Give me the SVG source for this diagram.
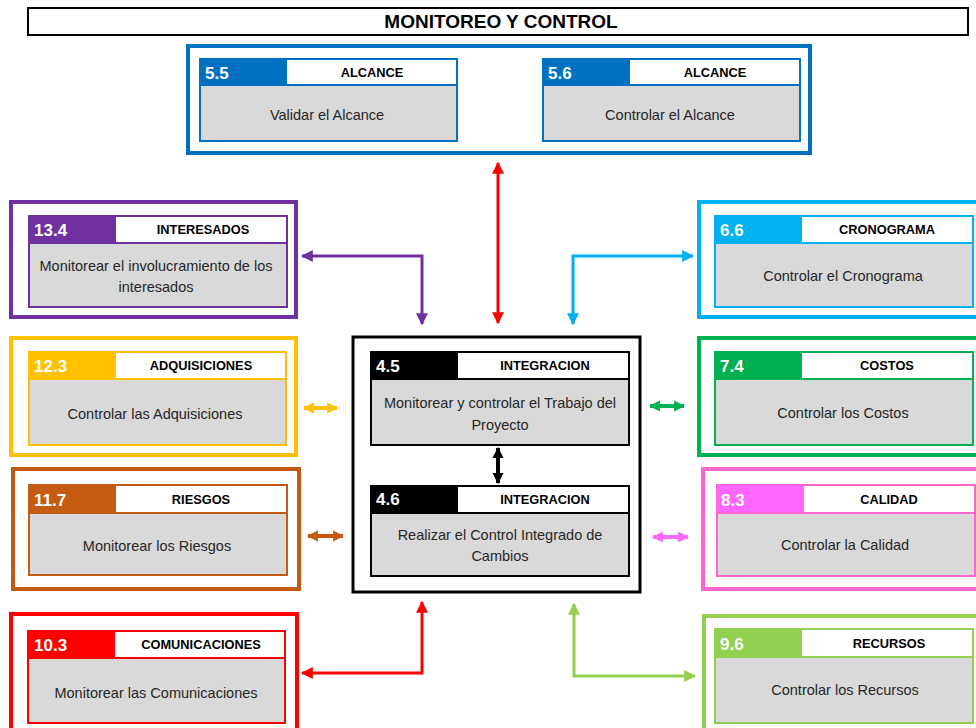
<svg xmlns="http://www.w3.org/2000/svg" width="976" height="728" viewBox="0 0 976 728">
  <style>
    text { font-family: "Liberation Sans", Arial, sans-serif; }
    .title { font-size: 19px; font-weight: bold; fill: #000; text-anchor: middle; }
    .num { font-size: 17px; font-weight: bold; fill: #fff; }
    .cat { font-size: 12.8px; font-weight: bold; fill: #000; text-anchor: middle; }
    .body { font-size: 14.5px; fill: #262626; text-anchor: middle; }
    .frame { fill: #fff; stroke-width: 4; }
    .card { fill: #D9D9D9; stroke-width: 2; }
    .head { fill: #fff; }
    .conn { fill: none; stroke-width: 3; }
    .short { fill: none; stroke-width: 4; }
  </style>
  <defs>
    <marker id="a-red" viewBox="0 0 10 10" refX="9" refY="5" markerWidth="12" markerHeight="12" markerUnits="userSpaceOnUse" orient="auto-start-reverse"><path d="M0,0 L10,5 L0,10 z" fill="#FF0000"/></marker>
    <marker id="a-purple" viewBox="0 0 10 10" refX="9" refY="5" markerWidth="12" markerHeight="12" markerUnits="userSpaceOnUse" orient="auto-start-reverse"><path d="M0,0 L10,5 L0,10 z" fill="#7030A0"/></marker>
    <marker id="a-cyan" viewBox="0 0 10 10" refX="9" refY="5" markerWidth="12" markerHeight="12" markerUnits="userSpaceOnUse" orient="auto-start-reverse"><path d="M0,0 L10,5 L0,10 z" fill="#00B0F0"/></marker>
    <marker id="a-lime" viewBox="0 0 10 10" refX="9" refY="5" markerWidth="12" markerHeight="12" markerUnits="userSpaceOnUse" orient="auto-start-reverse"><path d="M0,0 L10,5 L0,10 z" fill="#92D050"/></marker>
    <marker id="a-black" viewBox="0 0 10 10" refX="9" refY="5" markerWidth="11" markerHeight="13" markerUnits="userSpaceOnUse" orient="auto-start-reverse"><path d="M0,0 L10,5 L0,10 z" fill="#000"/></marker>
    <marker id="a-yellow" viewBox="0 0 10 10" refX="9" refY="5" markerWidth="11" markerHeight="13" markerUnits="userSpaceOnUse" orient="auto-start-reverse"><path d="M0,0 L10,5 L0,10 z" fill="#FFC000"/></marker>
    <marker id="a-green" viewBox="0 0 10 10" refX="9" refY="5" markerWidth="11" markerHeight="13" markerUnits="userSpaceOnUse" orient="auto-start-reverse"><path d="M0,0 L10,5 L0,10 z" fill="#00B050"/></marker>
    <marker id="a-brown" viewBox="0 0 10 10" refX="9" refY="5" markerWidth="11" markerHeight="13" markerUnits="userSpaceOnUse" orient="auto-start-reverse"><path d="M0,0 L10,5 L0,10 z" fill="#C55A11"/></marker>
    <marker id="a-pink" viewBox="0 0 10 10" refX="9" refY="5" markerWidth="11" markerHeight="13" markerUnits="userSpaceOnUse" orient="auto-start-reverse"><path d="M0,0 L10,5 L0,10 z" fill="#FF66FF"/></marker>
  </defs>

  <rect width="976" height="728" fill="#fff"/>

  <!-- Title bar -->
  <g id="title">
    <rect x="28" y="8" width="940" height="27" fill="#fff" stroke="#000" stroke-width="2"/>
    <text class="title" x="501" y="28">MONITOREO Y CONTROL</text>
  </g>

  <!-- Scope group (5.5 / 5.6) -->
  <g id="alcance">
    <rect class="frame" x="188" y="46" width="622" height="107" stroke="#0070C0"/>
    <g id="p5-5">
      <rect class="card" x="200" y="59" width="257" height="82" stroke="#0070C0"/>
      <rect x="200" y="59" width="87" height="26" fill="#0070C0"/>
      <rect class="head" x="287" y="60" width="169" height="25"/>
      <line x1="200" y1="85" x2="457" y2="85" stroke="#0070C0" stroke-width="2"/>
      <text class="num" x="205" y="79">5.5</text>
      <text class="cat" x="372" y="77">ALCANCE</text>
      <text class="body" x="327" y="120">Validar el Alcance</text>
    </g>
    <g id="p5-6">
      <rect class="card" x="543" y="59" width="257" height="82" stroke="#0070C0"/>
      <rect x="543" y="59" width="87" height="26" fill="#0070C0"/>
      <rect class="head" x="630" y="60" width="169" height="25"/>
      <line x1="543" y1="85" x2="800" y2="85" stroke="#0070C0" stroke-width="2"/>
      <text class="num" x="548" y="79">5.6</text>
      <text class="cat" x="715" y="77">ALCANCE</text>
      <text class="body" x="670" y="120">Controlar el Alcance</text>
    </g>
  </g>

  <!-- 13.4 Interesados -->
  <g id="p13-4">
    <rect class="frame" x="11" y="202" width="285" height="115" stroke="#7030A0"/>
    <rect class="card" x="29" y="216" width="258" height="91" stroke="#7030A0"/>
    <rect x="29" y="216" width="87" height="27" fill="#7030A0"/>
    <rect class="head" x="116" y="217" width="170" height="26"/>
    <line x1="29" y1="243" x2="287" y2="243" stroke="#7030A0" stroke-width="2"/>
    <text class="num" x="34" y="236">13.4</text>
    <text class="cat" x="203" y="234">INTERESADOS</text>
    <text class="body" x="156" y="271">Monitorear el involucramiento de los</text>
    <text class="body" x="156" y="292">interesados</text>
  </g>

  <!-- 6.6 Cronograma -->
  <g id="p6-6">
    <rect class="frame" x="699" y="202" width="295" height="115" stroke="#00B0F0"/>
    <rect class="card" x="715" y="216" width="258" height="91" stroke="#00B0F0"/>
    <rect x="715" y="216" width="87" height="27" fill="#00B0F0"/>
    <rect class="head" x="802" y="217" width="170" height="26"/>
    <line x1="715" y1="243" x2="973" y2="243" stroke="#00B0F0" stroke-width="2"/>
    <text class="num" x="720" y="236">6.6</text>
    <text class="cat" x="887" y="234">CRONOGRAMA</text>
    <text class="body" x="843" y="281">Controlar el Cronograma</text>
  </g>

  <!-- 12.3 Adquisiciones -->
  <g id="p12-3">
    <rect class="frame" x="11" y="338" width="285" height="117" stroke="#FFC000"/>
    <rect class="card" x="29" y="352" width="257" height="93" stroke="#FFC000"/>
    <rect x="29" y="352" width="87" height="27" fill="#FFC000"/>
    <rect class="head" x="116" y="353" width="169" height="26"/>
    <line x1="29" y1="379" x2="286" y2="379" stroke="#FFC000" stroke-width="2"/>
    <text class="num" x="34" y="372">12.3</text>
    <text class="cat" x="201" y="370">ADQUISICIONES</text>
    <text class="body" x="155" y="419">Controlar las Adquisiciones</text>
  </g>

  <!-- 11.7 Riesgos -->
  <g id="p11-7">
    <rect class="frame" x="13" y="469" width="286" height="120" stroke="#C55A11"/>
    <rect class="card" x="29" y="485" width="258" height="90" stroke="#C55A11"/>
    <rect x="29" y="485" width="87" height="28" fill="#C55A11"/>
    <rect class="head" x="116" y="486" width="170" height="27"/>
    <line x1="29" y1="513" x2="287" y2="513" stroke="#C55A11" stroke-width="2"/>
    <text class="num" x="34" y="506">11.7</text>
    <text class="cat" x="201" y="504">RIESGOS</text>
    <text class="body" x="157" y="551">Monitorear los Riesgos</text>
  </g>

  <!-- 10.3 Comunicaciones -->
  <g id="p10-3">
    <rect class="frame" x="11" y="614" width="286" height="120" stroke="#FF0000"/>
    <rect class="card" x="28" y="631" width="257" height="92" stroke="#FF0000"/>
    <rect x="28" y="630" width="87" height="28" fill="#FF0000"/>
    <rect class="head" x="115" y="632" width="169" height="26"/>
    <line x1="28" y1="658" x2="285" y2="658" stroke="#FF0000" stroke-width="2"/>
    <text class="num" x="34" y="651">10.3</text>
    <text class="cat" x="201" y="649">COMUNICACIONES</text>
    <text class="body" x="156" y="698">Monitorear las Comunicaciones</text>
  </g>

  <!-- Integration block (4.5 / 4.6) -->
  <g id="integracion">
    <rect x="353" y="337" width="287" height="255" fill="#fff" stroke="#000" stroke-width="3"/>
    <g id="p4-5">
      <rect class="card" x="371" y="352" width="258" height="93" stroke="#000"/>
      <rect x="371" y="352" width="87" height="27" fill="#000"/>
      <rect class="head" x="458" y="353" width="170" height="26"/>
      <line x1="371" y1="379" x2="629" y2="379" stroke="#000" stroke-width="2"/>
      <text class="num" x="376" y="372">4.5</text>
      <text class="cat" x="545" y="370">INTEGRACION</text>
      <text class="body" x="500" y="408">Monitorear y controlar el Trabajo del</text>
      <text class="body" x="500" y="430">Proyecto</text>
    </g>
    <g id="p4-6">
      <rect class="card" x="371" y="486" width="258" height="90" stroke="#000"/>
      <rect x="371" y="486" width="87" height="27" fill="#000"/>
      <rect class="head" x="458" y="487" width="170" height="26"/>
      <line x1="371" y1="513" x2="629" y2="513" stroke="#000" stroke-width="2"/>
      <text class="num" x="376" y="505">4.6</text>
      <text class="cat" x="545" y="504">INTEGRACION</text>
      <text class="body" x="500" y="540">Realizar el Control Integrado de</text>
      <text class="body" x="500" y="561">Cambios</text>
    </g>
  </g>

  <!-- 7.4 Costos -->
  <g id="p7-4">
    <rect class="frame" x="699" y="338" width="295" height="117" stroke="#00B050"/>
    <rect class="card" x="715" y="352" width="258" height="93" stroke="#00B050"/>
    <rect x="715" y="352" width="87" height="27" fill="#00B050"/>
    <rect class="head" x="802" y="353" width="170" height="26"/>
    <line x1="715" y1="379" x2="973" y2="379" stroke="#00B050" stroke-width="2"/>
    <text class="num" x="720" y="372">7.4</text>
    <text class="cat" x="887" y="370">COSTOS</text>
    <text class="body" x="843" y="418">Controlar los Costos</text>
  </g>

  <!-- 8.3 Calidad -->
  <g id="p8-3">
    <rect class="frame" x="703" y="469" width="295" height="120" stroke="#FF66CC"/>
    <rect class="card" x="717" y="485" width="258" height="91" stroke="#FF66CC"/>
    <rect x="717" y="485" width="87" height="28" fill="#FF66FF"/>
    <rect class="head" x="804" y="486" width="170" height="27"/>
    <line x1="717" y1="513" x2="975" y2="513" stroke="#FF66CC" stroke-width="2"/>
    <text class="num" x="721" y="506">8.3</text>
    <text class="cat" x="889" y="504">CALIDAD</text>
    <text class="body" x="845" y="550">Controlar la Calidad</text>
  </g>

  <!-- 9.6 Recursos -->
  <g id="p9-6">
    <rect class="frame" x="704" y="616" width="295" height="120" stroke="#92D050"/>
    <rect class="card" x="715" y="629" width="258" height="94" stroke="#92D050"/>
    <rect x="715" y="629" width="87" height="28" fill="#92D050"/>
    <rect class="head" x="802" y="630" width="170" height="27"/>
    <line x1="715" y1="657" x2="973" y2="657" stroke="#92D050" stroke-width="2"/>
    <text class="num" x="720" y="650">9.6</text>
    <text class="cat" x="889" y="648">RECURSOS</text>
    <text class="body" x="845" y="695">Controlar los Recursos</text>
  </g>

  <!-- Connectors -->
  <g id="connectors">
    <path class="conn" d="M498,163 V323" stroke="#FF0000" marker-start="url(#a-red)" marker-end="url(#a-red)"/>
    <path class="conn" d="M302,256 H422 V324" stroke="#7030A0" marker-start="url(#a-purple)" marker-end="url(#a-purple)"/>
    <path class="conn" d="M573,324 V256 H693" stroke="#00B0F0" marker-start="url(#a-cyan)" marker-end="url(#a-cyan)"/>
    <path class="conn" d="M422,602 V673 H302" stroke="#FF0000" marker-start="url(#a-red)" marker-end="url(#a-red)"/>
    <path class="conn" d="M574,604 V676 H695" stroke="#92D050" marker-start="url(#a-lime)" marker-end="url(#a-lime)"/>
    <path class="short" d="M498,448 V483" stroke="#000" marker-start="url(#a-black)" marker-end="url(#a-black)"/>
    <path class="short" d="M304,408 H337" stroke="#FFC000" marker-start="url(#a-yellow)" marker-end="url(#a-yellow)"/>
    <path class="short" d="M650,406 H684" stroke="#00B050" marker-start="url(#a-green)" marker-end="url(#a-green)"/>
    <path class="short" d="M308,536 H343" stroke="#C55A11" marker-start="url(#a-brown)" marker-end="url(#a-brown)"/>
    <path class="short" d="M653,537 H688" stroke="#FF66FF" marker-start="url(#a-pink)" marker-end="url(#a-pink)"/>
  </g>
</svg>
